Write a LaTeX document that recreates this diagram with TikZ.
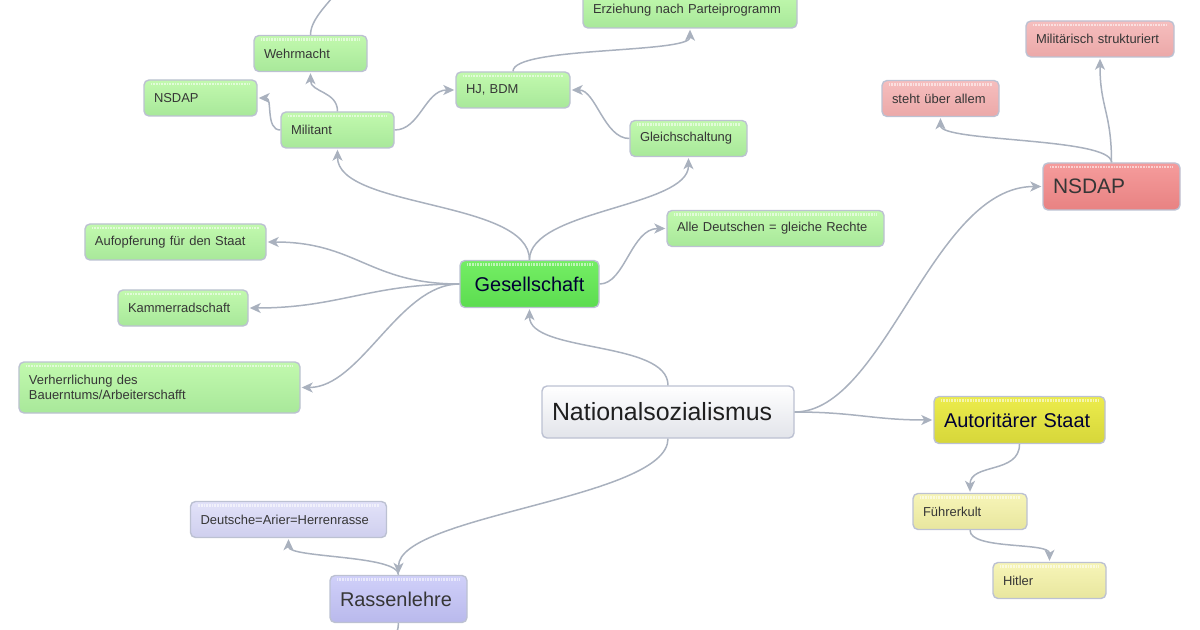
\documentclass[tikz,border=0pt]{standalone}
\usepackage{fontspec}
\setmainfont{Liberation Sans}
\usetikzlibrary{arrows.meta}

\definecolor{linkgray}{HTML}{A9B1BE}
\definecolor{boxline}{HTML}{BCC1D2}
\definecolor{textgray}{HTML}{363636}
\definecolor{natTop}{HTML}{FFFFFF}
\definecolor{natBot}{HTML}{E2E4EA}
\definecolor{gesTop}{HTML}{74EE64}
\definecolor{gesBot}{HTML}{5CDC50}
\definecolor{grnTop}{HTML}{C2F9AE}
\definecolor{grnBot}{HTML}{A8E89A}
\definecolor{redTop}{HTML}{F59C9C}
\definecolor{redBot}{HTML}{E88282}
\definecolor{rosTop}{HTML}{F6BEBE}
\definecolor{rosBot}{HTML}{EBA8A8}
\definecolor{yelTop}{HTML}{ECEC4C}
\definecolor{yelBot}{HTML}{D6D63A}
\definecolor{payTop}{HTML}{F7F5B8}
\definecolor{payBot}{HTML}{E8E69E}
\definecolor{purTop}{HTML}{D0D0F9}
\definecolor{purBot}{HTML}{B9B9EC}
\definecolor{lavTop}{HTML}{E2E2F9}
\definecolor{lavBot}{HTML}{CFCFEE}

\begin{document}
\begin{tikzpicture}[x=1bp, y=-1bp,
    box/.style={draw=boxline, line width=1.4bp, rounded corners=5bp,
      inner xsep=10bp, inner ysep=0bp, align=left, text=textgray,
      path picture={\draw[white, opacity=.55, line width=2.2bp,
        dash pattern=on .7bp off .9bp]
        ([xshift=7bp,yshift=-4bp]path picture bounding box.north west) --
        ([xshift=-7bp,yshift=-4bp]path picture bounding box.north east);}},
    leaf/.style={box, minimum height=36bp, font=\fontsize{13}{15}\selectfont},
    hub/.style={box, minimum height=47bp, font=\fontsize{20}{24}\selectfont},
    greenleaf/.style={leaf, top color=grnTop, bottom color=grnBot},
    redleaf/.style={leaf, top color=rosTop, bottom color=rosBot},
    yellowleaf/.style={leaf, top color=payTop, bottom color=payBot},
    purpleleaf/.style={leaf, top color=lavTop, bottom color=lavBot},
    link/.style={draw=linkgray, line width=1.5bp,
      -{Stealth[length=11bp, width=10bp, inset=3bp]}, shorten >=1bp},
  ]
  \useasboundingbox (0,0) rectangle (1200,630);
  \clip (0,0) rectangle (1200,630);

  % centre
  \node[hub, top color=natTop, bottom color=natBot, minimum height=52bp,
    text width=232bp, font=\fontsize{25}{30}\selectfont, text=black!88]
    (nat) at (668,412) {Nationalsozialismus};

  % Gesellschaft
  \node[hub, top color=gesTop, bottom color=gesBot, text width=119bp,
    align=center, text=black!80!blue] (ges) at (529.5,284) {Gesellschaft};
  \node[greenleaf, text width=161bp] (aufopf) at (175.5,242) {Aufopferung für den Staat};
  \node[greenleaf, text width=110bp] (kammer) at (183,308) {Kammerradschaft};
  \node[greenleaf, text width=261bp, minimum height=51bp] (verherr) at (159.5,387.5)
    {Verherrlichung des\\Bauerntums/Arbeiterschafft};
  \node[greenleaf, text width=197bp] (alle) at (775.5,228.5) {Alle Deutschen = gleiche Rechte};
  \node[greenleaf, text width=97bp] (gleich) at (688.5,138.5) {Gleichschaltung};
  \node[greenleaf, text width=94bp] (hj) at (513,90) {HJ, BDM};
  \node[greenleaf, text width=194bp] (erz) at (690,10) {Erziehung nach Parteiprogramm};
  \node[greenleaf, text width=93bp] (mil) at (337.5,130) {Militant};
  \node[greenleaf, text width=93bp] (nsdapg) at (200.5,98) {NSDAP};
  \node[greenleaf, text width=93bp] (wehr) at (310.5,53.5) {Wehrmacht};

  % NSDAP
  \node[hub, top color=redTop, bottom color=redBot, text width=117bp,
    font=\fontsize{21}{25}\selectfont] (nsdap) at (1111.5,186.5) {NSDAP};
  \node[redleaf, text width=97bp] (steht) at (940.5,98.5) {steht über allem};
  \node[redleaf, text width=128bp] (milstr) at (1100,39) {Militärisch strukturiert};

  % Autoritaerer Staat
  \node[hub, top color=yelTop, bottom color=yelBot, text width=151bp, text=black!80!blue]
    (aut) at (1019.5,420) {Autoritärer Staat};
  \node[yellowleaf, text width=94bp] (fuehrer) at (970,511.5) {Führerkult};
  \node[yellowleaf, text width=93bp] (hitler) at (1049.5,580.5) {Hitler};

  % Rassenlehre
  \node[hub, top color=purTop, bottom color=purBot, text width=117bp]
    (rass) at (398.5,599) {Rassenlehre};
  \node[purpleleaf, text width=176bp] (arier) at (288.5,519.5) {Deutsche=Arier=Herrenrasse};

  % branches leaving the picture
  \coordinate (wehrup) at (340,-25);
  \coordinate (rassdown) at (385,660);

  % links from the centre
  \draw[link] (nat.north) .. controls +(0,-45) and +(0,45) .. (ges.south);
  \draw[link] (nat.east) .. controls +(90,0) and +(-110,0) .. (nsdap.west);
  \draw[link] (nat.east) .. controls +(60,0) and +(-60,0) .. (aut.west);
  \draw[link] (nat.south) .. controls +(0,60) and +(0,-60) .. (rass.north);

  % Gesellschaft
  \draw[link] (ges.north) .. controls +(0,-60) and +(0,60) .. (mil.south);
  \draw[link] (ges.north) .. controls +(0,-50) and +(0,50) .. (gleich.south);
  \draw[link] (ges.east) .. controls +(25,0) and +(-35,0) .. (alle.west);
  \draw[link] (ges.west) .. controls +(-90,0) and +(90,0) .. (aufopf.east);
  \draw[link] (ges.west) .. controls +(-90,0) and +(90,0) .. (kammer.east);
  \draw[link] (ges.west) .. controls +(-60,0) and +(60,0) .. (verherr.east);
  \draw[link] (mil.west) .. controls +(-15,0) and +(15,0) .. (nsdapg.east);
  \draw[link] (mil.north) .. controls +(0,-20) and +(0,20) .. (wehr.south);
  \draw[link] (mil.east) .. controls +(25,0) and +(-30,0) .. (hj.west);
  \draw[link] (gleich.west) .. controls +(-25,0) and +(25,0) .. (hj.east);
  \draw[link] (hj.north) .. controls +(0,-25) and +(0,25) .. (erz.south);
  \draw[link] (wehr.north) .. controls +(0,-20) and +(0,20) .. (wehrup);

  % NSDAP
  \draw[link] (nsdap.north) .. controls +(0,-25) and +(0,25) .. (steht.south);
  \draw[link] (nsdap.north) .. controls +(0,-50) and +(0,50) .. (milstr.south);

  % Autoritaerer Staat
  \draw[link] (aut.south) .. controls +(0,30) and +(0,-30) .. (fuehrer.north);
  \draw[link] (fuehrer.south) .. controls +(0,20) and +(0,-20) .. (hitler.north);

  % Rassenlehre
  \draw[link] (rass.north) .. controls +(0,-20) and +(0,20) .. (arier.south);
  \draw[link] (rass.south) .. controls +(0,15) and +(0,-15) .. (rassdown);
\end{tikzpicture}
\end{document}
